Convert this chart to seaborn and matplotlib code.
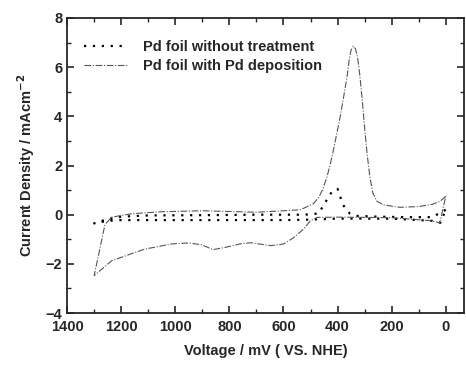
import numpy as np
import pandas as pd
import matplotlib
matplotlib.use("Agg")
import matplotlib.pyplot as plt
from matplotlib.ticker import MultipleLocator
import seaborn as sns

# Pd foil without treatment (dotted): anodic then cathodic sweep
bare_fwd_mv = [0, 50, 150, 250, 330, 355, 380, 400, 420, 440, 470, 520, 700, 900, 1100, 1200, 1250, 1300]
bare_fwd_j = [0.2, -0.1, -0.1, -0.08, -0.05, 0.05, 0.4, 1.05, 0.95, 0.6, 0.05, 0.0, 0.0, -0.02, -0.03, -0.08, -0.18, -0.35]
bare_bwd_mv = [1300, 1250, 1200, 1000, 800, 600, 500, 400, 200, 50, 20, 0]
bare_bwd_j = [-0.35, -0.25, -0.22, -0.22, -0.22, -0.22, -0.2, -0.16, -0.16, -0.25, -0.33, 0.2]

# Pd foil with Pd deposition (dash-dot)
dep_fwd_mv = [0, 20, 50, 100, 170, 230, 255, 270, 280, 290, 298, 309, 318, 326, 334, 342, 350, 357,
              365, 379, 390, 401, 414, 426, 440, 456, 470, 489, 537, 600, 700, 900, 1050, 1160,
              1235, 1260, 1300]
dep_fwd_j = [0.75, 0.55, 0.42, 0.33, 0.3, 0.4, 0.55, 0.9, 1.5, 2.4, 3.3, 4.7, 5.7, 6.4, 6.75, 6.85,
             6.7, 6.3, 5.6, 4.7, 4.0, 3.4, 2.7, 2.1, 1.5, 1.0, 0.7, 0.45, 0.2, 0.16, 0.1, 0.16,
             0.12, 0.04, -0.1, -0.4, -2.48]
dep_bwd_mv = [1300, 1235, 1113, 1014, 952, 904, 860, 819, 757, 720, 647, 599, 562, 525, 500, 475,
              400, 200, 59, 22, 0]
dep_bwd_j = [-2.48, -1.87, -1.4, -1.19, -1.15, -1.22, -1.42, -1.34, -1.18, -1.14, -1.26, -1.19, -0.93,
             -0.58, -0.24, -0.11, -0.1, -0.12, -0.24, -0.33, 0.75]

sns.set_style("ticks")
plt.rcParams['font.family'] = ['Liberation Sans', 'DejaVu Sans']
plt.rcParams['font.weight'] = 'bold'

bare = pd.DataFrame({'mV': bare_fwd_mv + bare_bwd_mv, 'j': bare_fwd_j + bare_bwd_j})
dep = pd.DataFrame({'mV': dep_fwd_mv + dep_bwd_mv, 'j': dep_fwd_j + dep_bwd_j})

fig = plt.figure(figsize=(4.66, 3.67), dpi=100)
ax = fig.add_axes([0.144, 0.147, 0.852, 0.804])

sns.lineplot(data=bare, x='mV', y='j', sort=False, estimator=None, ax=ax, color='black',
             linestyle=(0, (1, 3)), linewidth=1.6, label='Pd foil without treatment')
sns.lineplot(data=dep, x='mV', y='j', sort=False, estimator=None, ax=ax, color='#555555',
             linestyle=(0, (6, 1.5, 1, 1.5)), linewidth=0.8, label='Pd foil with Pd deposition')

ax.set_xlim(1400, -68)
ax.set_ylim(-4, 8)
ax.xaxis.set_major_locator(MultipleLocator(200))
ax.xaxis.set_minor_locator(MultipleLocator(100))
ax.yaxis.set_major_locator(MultipleLocator(2))
ax.yaxis.set_minor_locator(MultipleLocator(1))
ax.tick_params(which='both', direction='in', top=True, right=True, labelsize=10.5)
ax.tick_params(which='major', length=5, width=1.2)
ax.tick_params(axis='x', which='major', pad=5)
ax.tick_params(which='minor', length=3, width=1)
for s in ax.spines.values():
    s.set_linewidth(1.3)

ax.set_xlabel('Voltage / mV ( VS. NHE)', fontsize=10.5, fontweight='bold', labelpad=7)
ax.set_ylabel('Current Density / mAcm$^{\\mathbf{-2}}$', fontsize=10.5, fontweight='bold', labelpad=6)

leg = ax.legend(loc='upper left', bbox_to_anchor=(0.01, 0.97), frameon=False, fontsize=10.5,
                handlelength=3.0, handletextpad=1.0, labelspacing=0.35)

fig.savefig('out.png', dpi=100)
